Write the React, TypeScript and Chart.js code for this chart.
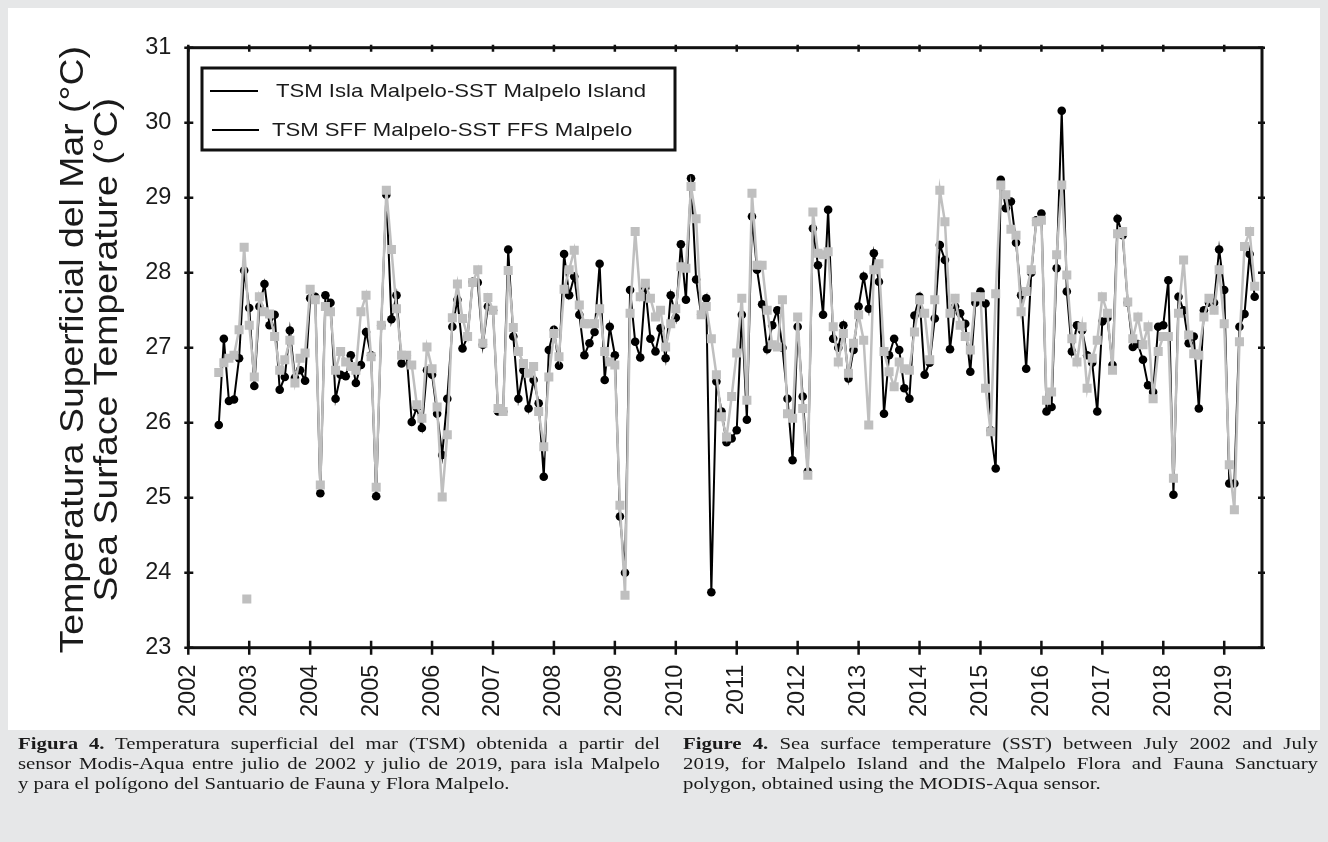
import React, { useEffect, useRef } from "react";
import { Chart, registerables } from "chart.js";

Chart.register(...registerables);

// Monthly series starting July 2002
const START_YEAR = 2002;
const START_MONTH = 7;

const yearLabels = [
  "2002", "2003", "2004", "2005", "2006", "2007", "2008", "2009", "2010",
  "2011", "2012", "2013", "2014", "2015", "2016", "2017", "2018", "2019",
];

const yTicks = [23, 24, 25, 26, 27, 28, 29, 30, 31];

// TSM Isla Malpelo - SST Malpelo Island (black circles)
const islaMalpelo = [
  25.97, 27.12, 26.29, 26.31, 26.86, 28.03, 27.53, 26.49, 27.55, 27.85,
  27.30, 27.44, 26.44, 26.61, 27.23, 26.60, 26.70, 26.56, 27.66, 27.68,
  25.06, 27.70, 27.60, 26.32, 26.64, 26.62, 26.90, 26.53, 26.77, 27.21,
  26.90, 25.02, 27.30, 29.04, 27.38, 27.70, 26.79, 26.90, 26.01, 26.20,
  25.93, 26.70, 26.64, 26.12, 25.57, 26.32, 27.28, 27.64, 26.99, 27.15,
  27.88, 27.87, 27.04, 27.55, 27.50, 26.15, 26.15, 28.31, 27.15, 26.32,
  26.70, 26.19, 26.57, 26.26, 25.28, 26.97, 27.24, 26.76, 28.25, 27.70,
  27.95, 27.44, 26.90, 27.06, 27.21, 28.12, 26.57, 27.28, 26.90, 24.75,
  24.00, 27.77, 27.08, 26.87, 27.80, 27.12, 26.95, 27.26, 26.86, 27.70,
  27.40, 28.38, 27.64, 29.26, 27.91, 27.44, 27.66, 23.74, 26.55, 26.15,
  25.74, 25.79, 25.90, 27.44, 26.04, 28.75, 28.04, 27.58, 26.98, 27.30,
  27.50, 27.00, 26.32, 25.50, 27.28, 26.35, 25.35, 28.59, 28.10, 27.44,
  28.84, 27.12, 27.00, 27.30, 26.59, 26.97, 27.55, 27.95, 27.52, 28.26,
  27.88, 26.12, 26.90, 27.12, 26.97, 26.46, 26.32, 27.43, 27.68, 26.64,
  26.80, 27.39, 28.37, 28.17, 26.98, 27.55, 27.46, 27.32, 26.68, 27.60,
  27.75, 27.59, 25.90, 25.39, 29.24, 28.86, 28.95, 28.40, 27.70, 26.72,
  28.00, 28.70, 28.79, 26.15, 26.21, 28.06, 30.16, 27.75, 26.95, 27.30,
  27.23, 26.90, 26.80, 26.15, 27.35, 27.40, 26.77, 28.72, 28.50, 27.60,
  27.01, 27.05, 26.84, 26.50, 26.41, 27.28, 27.30, 27.90, 25.04, 27.68,
  27.50, 27.06, 27.15, 26.19, 27.50, 27.60, 27.60, 28.31, 27.77, 25.19,
  25.19, 27.28, 27.45, 28.25, 27.68,
];

// TSM SFF Malpelo - SST FFS Malpelo (gray squares)
const sffMalpelo = [
  26.67, 26.80, 26.86, 26.90, 27.24, 28.34, 27.30, 26.61, 27.68, 27.48,
  27.45, 27.15, 26.70, 26.84, 27.10, 26.53, 26.86, 26.93, 27.78, 27.64,
  25.17, 27.55, 27.48, 26.70, 26.95, 26.81, 26.75, 26.70, 27.48, 27.70,
  26.88, 25.14, 27.30, 29.10, 28.31, 27.52, 26.90, 26.90, 26.77, 26.24,
  26.06, 27.01, 26.72, 26.21, 25.01, 25.84, 27.40, 27.85, 27.39, 27.15,
  27.87, 28.04, 27.06, 27.67, 27.50, 26.19, 26.15, 28.03, 27.27, 26.95,
  26.79, 26.66, 26.75, 26.15, 25.68, 26.61, 27.19, 26.88, 27.78, 28.04,
  28.30, 27.57, 27.32, 27.32, 27.32, 27.52, 26.95, 26.81, 26.77, 24.90,
  23.70, 27.46, 28.55, 27.68, 27.86, 27.66, 27.41, 27.50, 27.01, 27.32,
  27.52, 28.08, 28.06, 29.15, 28.72, 27.44, 27.55, 27.12, 26.64, 26.08,
  25.81, 26.35, 26.93, 27.66, 26.30, 29.06, 28.10, 28.10, 27.50, 27.04,
  27.01, 27.64, 26.12, 26.06, 27.41, 26.19, 25.30, 28.81, 28.26, 28.24,
  28.28, 27.28, 26.81, 27.19, 26.66, 27.06, 27.44, 27.10, 25.97, 28.04,
  28.12, 26.95, 26.68, 26.48, 26.81, 26.72, 26.70, 27.21, 27.64, 27.46,
  26.84, 27.64, 29.10, 28.68, 27.46, 27.66, 27.30, 27.15, 26.97, 27.68,
  27.68, 26.46, 25.88, 27.72, 29.17, 29.04, 28.58, 28.50, 27.48, 27.75,
  28.04, 28.68, 28.70, 26.30, 26.41, 28.24, 29.17, 27.97, 27.12, 26.81,
  27.28, 26.46, 26.86, 27.10, 27.68, 27.46, 26.70, 28.52, 28.55, 27.61,
  27.12, 27.41, 27.04, 27.28, 26.32, 26.95, 27.15, 27.15, 25.26, 27.46,
  28.17, 27.17, 26.92, 26.90, 27.41, 27.66, 27.50, 28.04, 27.32, 25.44,
  24.84, 27.08, 28.35, 28.55, 27.82,
];

// isolated gray marker near the end of 2002
const sffIsolatedX = [2002.96];
const sffIsolatedY = [23.65];

const legendLabels = [
  "TSM Isla Malpelo-SST Malpelo Island",
  "TSM SFF Malpelo-SST FFS Malpelo",
];

const yTitle = [
  "Temperatura Superficial del Mar (°C)",
  "Sea Surface Temperature (°C)",
];

const BLACK = "#000000";
const GRAY = "#bfbfbf";
const TEXT = "#1a1a1a";
const SANS = "'Liberation Sans', Arial, sans-serif";

const monthToYear = (i: number) => START_YEAR + (START_MONTH - 1 + i) / 12;

const framePlugin = {
  id: "frameAndTicks",
  afterDatasetsDraw(chart: any) {
    const { ctx, chartArea: a, scales } = chart;
    ctx.save();
    ctx.strokeStyle = "#111";
    ctx.lineWidth = 3;
    ctx.strokeRect(a.left, a.top, a.right - a.left, a.bottom - a.top);
    ctx.lineWidth = 2.5;
    ctx.beginPath();
    for (const t of scales.x.ticks) {
      const px = scales.x.getPixelForValue(t.value);
      ctx.moveTo(px, a.bottom - 7);
      ctx.lineTo(px, a.bottom + 7);
      ctx.moveTo(px, a.top - 3);
      ctx.lineTo(px, a.top + 4);
    }
    for (const t of scales.y.ticks) {
      const py = scales.y.getPixelForValue(t.value);
      ctx.moveTo(a.left - 4, py);
      ctx.lineTo(a.left + 5, py);
      ctx.moveTo(a.right - 4, py);
      ctx.lineTo(a.right + 3, py);
    }
    ctx.stroke();
    ctx.restore();
  },
  afterDraw(chart: any) {
    const { ctx, chartArea: a } = chart;
    ctx.save();
    // legend box
    ctx.fillStyle = "#ffffff";
    ctx.fillRect(202, 68, 473, 82);
    ctx.strokeStyle = "#111";
    ctx.lineWidth = 3;
    ctx.strokeRect(202, 68, 473, 82);
    ctx.lineWidth = 2;
    ctx.strokeStyle = "#000";
    ctx.beginPath();
    ctx.moveTo(210, 91);
    ctx.lineTo(258, 91);
    ctx.moveTo(212, 130);
    ctx.lineTo(259, 130);
    ctx.stroke();
    ctx.fillStyle = TEXT;
    ctx.font = "18.6px " + SANS;
    ctx.textBaseline = "middle";
    ctx.textAlign = "left";
    ctx.save();
    ctx.translate(276, 92);
    ctx.scale(1.19, 1);
    ctx.fillText(legendLabels[0], 0, 0);
    ctx.restore();
    ctx.save();
    ctx.translate(272, 131);
    ctx.scale(1.19, 1);
    ctx.fillText(legendLabels[1], 0, 0);
    ctx.restore();

    // y axis title (two lines, rotated)
    const cy = (a.top + a.bottom) / 2 + 2;
    ctx.font = "34px " + SANS;
    ctx.textAlign = "center";
    ctx.textBaseline = "middle";
    ctx.save();
    ctx.translate(74, cy);
    ctx.rotate(-Math.PI / 2);
    ctx.scale(1.1, 1);
    ctx.fillText(yTitle[0], 0, 0);
    ctx.fillText(yTitle[1], 0, 34);
    ctx.restore();
    ctx.restore();
  },
};

export default function App() {
  const ref = useRef<HTMLCanvasElement>(null);

  useEffect(() => {
    if (!ref.current) return;
    const blackData = islaMalpelo.map((v, i) => ({ x: monthToYear(i), y: v }));
    const grayData = sffMalpelo.map((v, i) => ({ x: monthToYear(i), y: v }));
    const isoData = sffIsolatedX.map((x, i) => ({ x, y: sffIsolatedY[i] }));

    const chart = new Chart(ref.current, {
      type: "line",
      data: {
        datasets: [
          {
            label: legendLabels[0],
            data: blackData,
            borderColor: BLACK,
            backgroundColor: BLACK,
            borderWidth: 2,
            pointStyle: "circle",
            pointRadius: 4.3,
            pointBorderWidth: 0,
            tension: 0,
            order: 2,
          },
          {
            label: legendLabels[1],
            data: grayData,
            borderColor: GRAY,
            backgroundColor: GRAY,
            borderWidth: 2.5,
            pointStyle: "rect",
            pointRadius: 6.4,
            pointBorderWidth: 0,
            tension: 0,
            order: 1,
          },
          {
            label: "",
            data: isoData,
            showLine: false,
            borderColor: GRAY,
            backgroundColor: GRAY,
            pointStyle: "rect",
            pointRadius: 6.4,
            pointBorderWidth: 0,
            order: 1,
          },
        ],
      },
      options: {
        responsive: false,
        animation: false,
        devicePixelRatio: 1,
        layout: { padding: { left: 0, top: 47.7, right: 66, bottom: 0 } },
        plugins: {
          legend: { display: false },
          tooltip: { enabled: false },
        },
        scales: {
          x: {
            type: "linear",
            min: 2002,
            max: 2019.62,
            afterBuildTicks: (s: any) => {
              s.ticks = yearLabels.map((y) => ({ value: Number(y) }));
            },
            afterFit: (s: any) => {
              s.height = 735 - 647.7;
            },
            ticks: {
              autoSkip: false,
              minRotation: 90,
              maxRotation: 90,
              padding: 17,
              color: TEXT,
              font: { family: SANS, size: 23.5 },
              callback: (v: any) => {
                const idx = yearLabels.indexOf(String(v));
                return idx >= 0 ? yearLabels[idx] : "";
              },
            },
            grid: { display: false, drawTicks: false },
            border: { display: false },
          },
          y: {
            type: "linear",
            min: 23,
            max: 31,
            afterBuildTicks: (s: any) => {
              s.ticks = yTicks.map((v) => ({ value: v }));
            },
            afterFit: (s: any) => {
              s.width = 188.3;
            },
            ticks: {
              padding: 17,
              color: TEXT,
              font: { family: SANS, size: 23.5 },
              callback: (v: any) => String(v),
            },
            grid: { display: false, drawTicks: false },
            border: { display: false },
          },
        },
      },
      plugins: [framePlugin],
    });
    return () => chart.destroy();
  }, []);

  const STRETCH = 1.3;
  const capStyle: React.CSSProperties = {
    fontFamily: "'Liberation Serif', 'Times New Roman', serif",
    fontSize: 16,
    lineHeight: "20px",
    color: "#1a1a1a",
    transform: `scaleX(${STRETCH})`,
    transformOrigin: "left top",
  };
  const justLine: React.CSSProperties = {
    textAlign: "justify",
    textAlignLast: "justify" as any,
    whiteSpace: "nowrap",
  };

  return (
    <div
      style={{
        position: "absolute",
        left: 0,
        top: 0,
        width: 1328,
        height: 842,
        background: "#e6e7e8",
        overflow: "hidden",
      }}
    >
      <div
        style={{
          position: "absolute",
          left: 8,
          top: 8,
          width: 1312,
          height: 722,
          background: "#ffffff",
        }}
      />
      <canvas
        ref={ref}
        width={1328}
        height={735}
        style={{ position: "absolute", left: 0, top: 0, width: 1328, height: 735 }}
      />
      <div style={{ ...capStyle, position: "absolute", left: 18, top: 734, width: 642 / STRETCH }}>
        <div style={justLine}>
          <b>Figura 4.</b> Temperatura superficial del mar (TSM) obtenida a partir del
        </div>
        <div style={justLine}>
          sensor Modis-Aqua entre julio de 2002 y julio de 2019, para isla Malpelo
        </div>
        <div>y para el polígono del Santuario de Fauna y Flora Malpelo.</div>
      </div>
      <div style={{ ...capStyle, position: "absolute", left: 683, top: 734, width: 635 / STRETCH }}>
        <div style={justLine}>
          <b>Figure 4.</b> Sea surface temperature (SST) between July 2002 and July
        </div>
        <div style={justLine}>
          2019, for Malpelo Island and the Malpelo Flora and Fauna Sanctuary
        </div>
        <div>polygon, obtained using the MODIS-Aqua sensor.</div>
      </div>
    </div>
  );
}
